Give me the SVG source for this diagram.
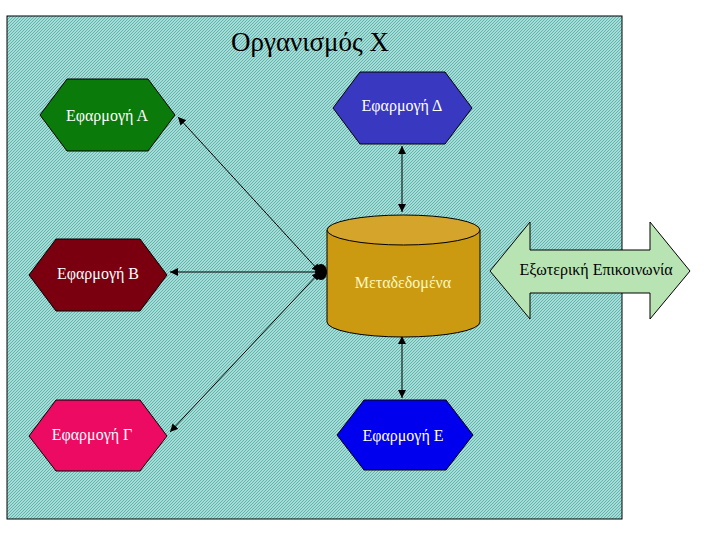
<svg xmlns="http://www.w3.org/2000/svg" width="710" height="539" viewBox="0 0 710 539">
<defs>
<marker id="ah" viewBox="0 0 10 10" refX="10" refY="5" markerWidth="8" markerHeight="8" orient="auto-start-reverse" markerUnits="userSpaceOnUse"><path d="M0,0 L10,5 L0,10 z" fill="#000"/></marker>
<pattern id="hatch" width="3" height="3" patternUnits="userSpaceOnUse"><rect width="3" height="3" fill="#a8dcd6"/><path d="M0,3 L3,0" stroke="#5fb5ad" stroke-width="1"/></pattern>
</defs>
<style>
.t{font-family:'Liberation Serif',serif;font-size:16px;fill:#fff;text-anchor:middle}
.hex{stroke:#000;stroke-width:1}
.c line{stroke:#000;stroke-width:1}
</style>
<rect width="710" height="539" fill="#fff"/>
<rect x="7" y="16" width="615" height="503" fill="url(#hatch)" stroke="#000"/>
<text x="310" y="51" font-family="'Liberation Serif',serif" font-size="27" text-anchor="middle">Οργανισμός Χ</text>
<g class="c">
<line x1="320" y1="272" x2="178" y2="117" marker-start="url(#ah)" marker-end="url(#ah)"/>
<line x1="320" y1="272" x2="170" y2="272" marker-end="url(#ah)"/>
<line x1="320" y1="272" x2="170" y2="432" marker-start="url(#ah)" marker-end="url(#ah)"/>
<line x1="402" y1="146" x2="402" y2="212" marker-start="url(#ah)" marker-end="url(#ah)"/>
<line x1="402" y1="336" x2="402" y2="398" marker-start="url(#ah)" marker-end="url(#ah)"/>
<path d="M327,272 a6,8 0 0 0 -12,0 a6,8 0 0 0 12,0z" fill="#000"/>
</g>
<g id="appA"><polygon class="hex" points="67,79 148,79 175,115 148,151 67,151 40,115" fill="#0a7a0a"/><text class="t" x="107" y="121">Εφαρμογή Α</text></g>
<g id="appD"><polygon class="hex" points="360,72 445,72 472,108 445,144 360,144 333,108" fill="#3838c0"/><text class="t" x="402" y="111">Εφαρμογή Δ</text></g>
<g id="appB"><polygon class="hex" points="56,239 140,239 167,275 140,311 56,311 29,275" fill="#7a0010"/><text class="t" x="98" y="279">Εφαρμογή Β</text></g>
<g id="appG"><polygon class="hex" points="56,400 140,400 167,436 140,471 56,471 29,436" fill="#ec0a62"/><text class="t" x="92" y="440">Εφαρμογή Γ</text></g>
<g id="appE"><polygon class="hex" points="364,400 446,400 473,435 446,470 364,470 337,435" fill="#0000ee"/><text class="t" x="403" y="441">Εφαρμογή Ε</text></g>
<g id="meta">
<path d="M327,230 L327,322 A76.5,15 0 0 0 480,322 L480,230" fill="#cc9a10" stroke="#000"/>
<ellipse cx="403.5" cy="230" rx="76.5" ry="15" fill="#d4a52a" stroke="#000"/>
<text class="t" x="403" y="288" style="fill:#fff8c0">Μεταδεδομένα</text>
</g>
<g id="ext">
<polygon points="490,271 530,222 530,250 650,250 650,222 690,271 650,319 650,293 530,293 530,319" fill="#b8e4b4" stroke="#000"/>
<text x="596" y="275" font-family="'Liberation Serif',serif" font-size="16" text-anchor="middle">Εξωτερική Επικοινωνία</text>
</g>
</svg>
